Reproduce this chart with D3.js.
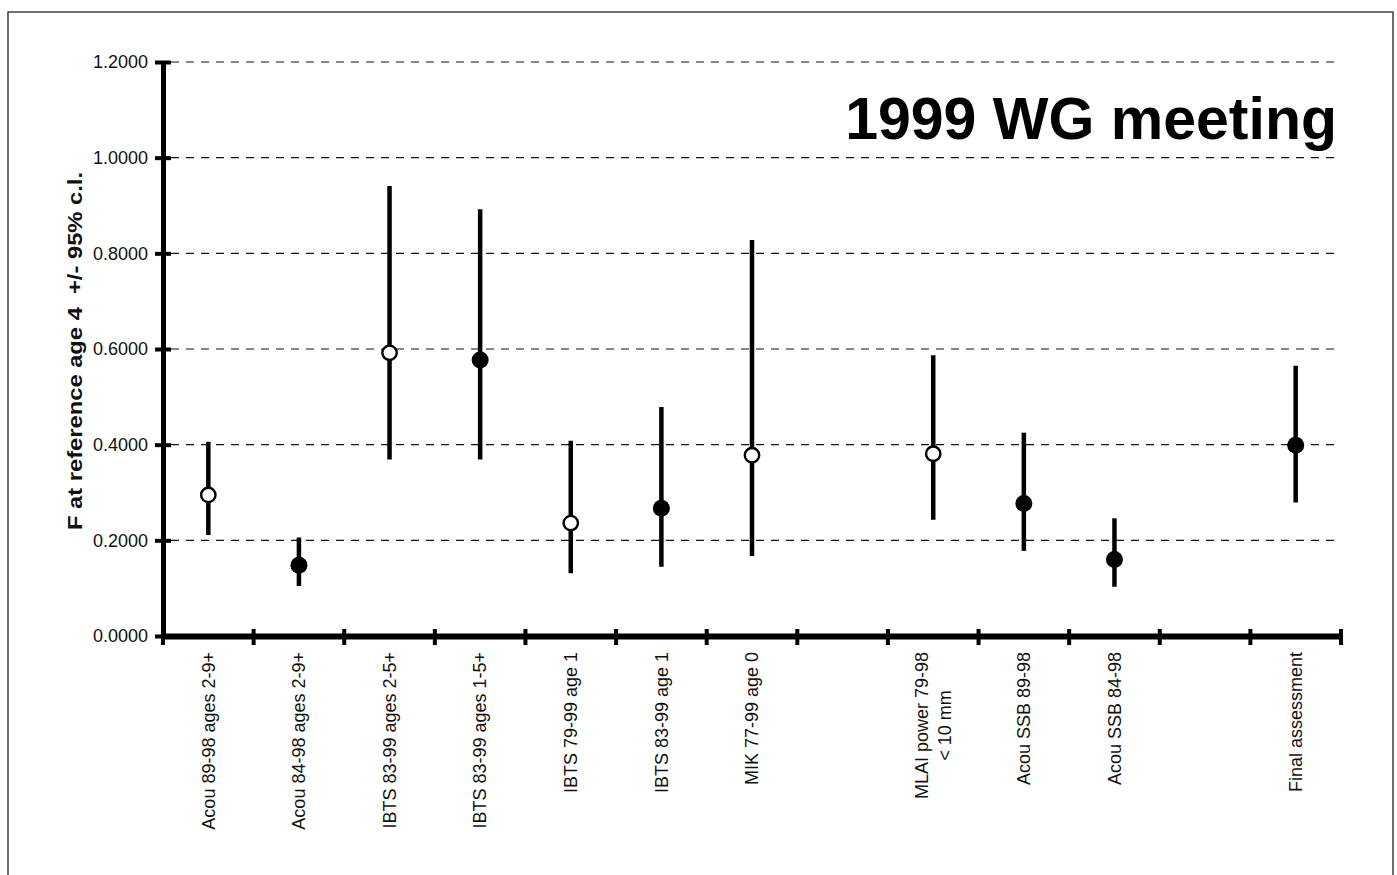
<!DOCTYPE html>
<html>
<head>
<meta charset="utf-8">
<script src="https://cdn.jsdelivr.net/npm/d3@7"></script>
<style>
  html, body { margin: 0; padding: 0; background: #fff; }
  svg { display: block; }
</style>
</head>
<body>
<svg id="chart" width="1397" height="875"></svg>
<script>
// ---- data (13 slots on the category axis; two are empty) ----
const categories = [
  "Acou 89-98 ages 2-9+",
  "Acou 84-98 ages 2-9+",
  "IBTS 83-99 ages 2-5+",
  "IBTS 83-99 ages 1-5+",
  "IBTS 79-99 age 1",
  "IBTS 83-99 age 1",
  "MIK 77-99 age 0",
  "",
  "MLAI power 79-98\n< 10 mm",
  "Acou SSB 89-98",
  "Acou SSB 84-98",
  "",
  "Final assessment"
];
const estimate = [0.295, 0.148, 0.592, 0.577, 0.236, 0.267, 0.378, null, 0.381, 0.277, 0.160, null, 0.399];
const upper    = [0.406, 0.206, 0.941, 0.892, 0.408, 0.479, 0.828, null, 0.587, 0.425, 0.246, null, 0.565];
const lower    = [0.211, 0.1045, 0.369, 0.369, 0.131, 0.145, 0.167, null, 0.243, 0.178, 0.103, null, 0.279];
const openMarker = [true, false, true, false, true, false, true, null, true, false, false, null, false];
const yTicks = [0, 0.2, 0.4, 0.6, 0.8, 1.0, 1.2];
const titleText = "1999 WG meeting";
const yTitle = "F at reference age 4\u00A0\u00A0+/- 95% c.l.";

(function () {
// ---- layout ----
const svg = d3.select("#chart");
const mLeft = 163, mRight = 1341, mTop = 62, mBottom = 636;
const x = d3.scaleBand().domain(d3.range(categories.length)).range([mLeft, mRight]).padding(0);
const y = d3.scaleLinear().domain([0, 1.2]).range([mBottom, mTop]);
const FONT = "'Liberation Sans', Arial, Helvetica, sans-serif";

// frame
svg.append("rect")
  .attr("x", 8).attr("y", 12).attr("width", 1385).attr("height", 880)
  .attr("fill", "none").attr("stroke", "#222").attr("stroke-width", 1.3);

// gridlines
svg.append("g").selectAll("line")
  .data(yTicks.filter(d => d > 0))
  .join("line")
  .attr("x1", mLeft + 8).attr("x2", mRight)
  .attr("y1", d => y(d)).attr("y2", d => y(d))
  .attr("stroke", "#111").attr("stroke-width", 1.1)
  .attr("stroke-dasharray", "8,7");

// y axis
const yAxis = d3.axisLeft(y).tickValues(yTicks).tickFormat(d3.format(".4f")).tickSizeInner(8).tickSizeOuter(0).tickPadding(8);
const gy = svg.append("g").attr("transform", `translate(${mLeft},0)`).call(yAxis);
gy.select(".domain").attr("stroke", "#000").attr("stroke-width", 5);
gy.selectAll(".tick line").attr("stroke", "#000").attr("stroke-width", 4).attr("x2", 8).attr("x1", -8);
gy.selectAll(".tick text").attr("font-family", FONT).attr("font-size", 18).attr("fill", "#111").attr("x", -15);

// x axis
const xAxis = d3.axisBottom(x).tickValues([]).tickSizeOuter(0);
const gx = svg.append("g").attr("transform", `translate(0,${mBottom})`).call(xAxis);
gx.select(".domain").attr("stroke", "#000").attr("stroke-width", 6);
// tick marks at band boundaries
const boundaries = d3.range(categories.length + 1).map(i => i < categories.length ? x(i) : x(categories.length - 1) + x.bandwidth());
gx.selectAll(".bt").data(boundaries).join("line").attr("class", "bt")
  .attr("x1", d => d).attr("x2", d => d).attr("y1", -7).attr("y2", 9)
  .attr("stroke", "#000").attr("stroke-width", 4);

// category labels (rotated)
const labG = svg.append("g");
categories.forEach((c, i) => {
  if (!c) return;
  const lines = c.split("\n");
  const cx = x(i) + x.bandwidth() / 2;
  const lineGap = 23;
  const n = lines.length;
  let firstLen = null;
  lines.forEach((ln, k) => {
    const bx = cx + (k - (n - 1) / 2) * lineGap;
    const t = labG.append("text")
      .attr("transform", `translate(${bx},652) rotate(-90)`)
      .attr("dy", "0.35em")
      .attr("font-family", FONT).attr("font-size", 18).attr("fill", "#111")
      .text(ln);
    if (k === 0) {
      t.attr("text-anchor", "end");
      firstLen = t.node().getComputedTextLength();
    } else {
      t.attr("text-anchor", "middle").attr("x", -firstLen / 2);
    }
  });
});

// error bars
const idx = d3.range(categories.length).filter(i => estimate[i] != null);
svg.append("g").selectAll("line").data(idx).join("line")
  .attr("x1", i => x(i) + x.bandwidth() / 2).attr("x2", i => x(i) + x.bandwidth() / 2)
  .attr("y1", i => y(upper[i])).attr("y2", i => y(lower[i]))
  .attr("stroke", "#000").attr("stroke-width", 4.5);

// markers
svg.append("g").selectAll("circle").data(idx).join("circle")
  .attr("cx", i => x(i) + x.bandwidth() / 2)
  .attr("cy", i => y(estimate[i]))
  .attr("r", i => openMarker[i] ? 7.2 : 8.5)
  .attr("fill", i => openMarker[i] ? "#fff" : "#000")
  .attr("stroke", "#000")
  .attr("stroke-width", i => openMarker[i] ? 2.4 : 0);

// y title
svg.append("text")
  .attr("transform", "translate(82,530) rotate(-90)")
  .attr("font-family", FONT).attr("font-size", 21).attr("font-weight", "bold").attr("fill", "#111")
  .attr("textLength", 358).attr("lengthAdjust", "spacingAndGlyphs")
  .text(yTitle);

// chart title
svg.append("text")
  .attr("x", 1337).attr("y", 139)
  .attr("text-anchor", "end")
  .attr("font-family", FONT).attr("font-size", 59).attr("font-weight", "bold").attr("fill", "#000")
  .text(titleText);
})();
</script>
</body>
</html>
